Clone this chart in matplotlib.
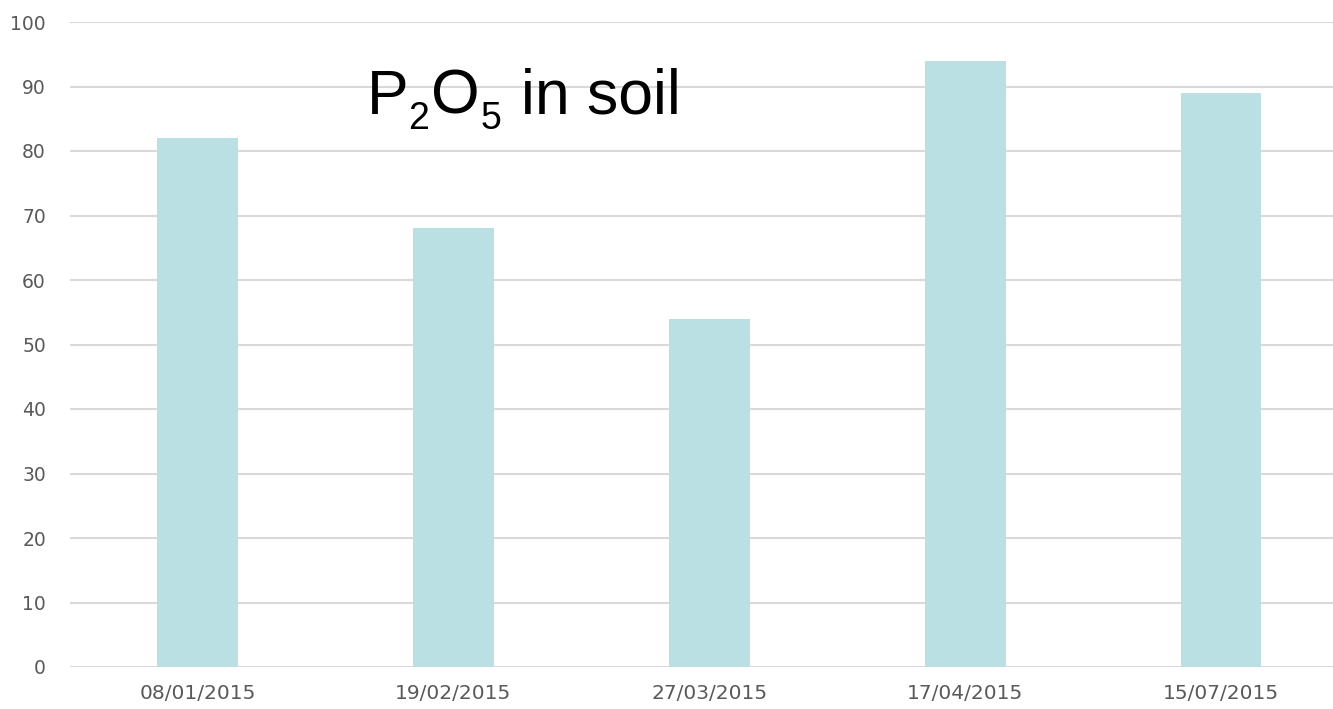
import matplotlib.pyplot as plt
from matplotlib.transforms import offset_copy

dates = ['08/01/2015', '19/02/2015', '27/03/2015', '17/04/2015', '15/07/2015']
p2o5 = [82, 68, 54, 94, 89]
yticks = [0, 10, 20, 30, 40, 50, 60, 70, 80, 90, 100]

fig = plt.figure(figsize=(13.33, 7.09), dpi=100)
ax = fig.add_axes([69.5 / 1333, 42 / 709, 1279.5 / 1333, 645 / 709])

x = range(len(dates))
ax.bar(x, p2o5, width=0.316, color='#bbe0e3', zorder=2)

ax.set_xlim(-0.5, 4.5)
ax.set_ylim(0, 100)
ax.set_yticks(yticks)
ax.set_xticks(list(x))
ax.set_xticklabels(dates)
ax.grid(axis='y', color='#d9d9d9', linewidth=1.5, zorder=0)
for s in ax.spines.values():
    s.set_visible(False)
ax.tick_params(axis='both', length=0, labelsize=13.5, labelcolor='#595959')
ax.tick_params(axis='x', labelsize=14.5, pad=12)
ax.tick_params(axis='y', pad=17)

# title with real subscripts, placed piece by piece (text, size, drop, gap before)
pieces = [('P', 45, 0, 0), ('2', 27, -15, 0), ('O', 45, 0, 2),
          ('5', 27, -15, 0), ('in soil', 45, 0, 20)]
fig.canvas.draw()
renderer = fig.canvas.get_renderer()
x0, base = 367, 709 - 114
for s, size, dy, gap in pieces:
    x0 += gap
    tr = offset_copy(fig.transFigure, fig=fig, x=0, y=dy * 72 / fig.dpi, units='points')
    t = fig.text(x0 / 1333, base / 709, s, fontsize=size, family='Liberation Sans',
                 ha='left', va='baseline', transform=tr)
    x0 += t.get_window_extent(renderer).width

fig.savefig('out.png', dpi=100)
